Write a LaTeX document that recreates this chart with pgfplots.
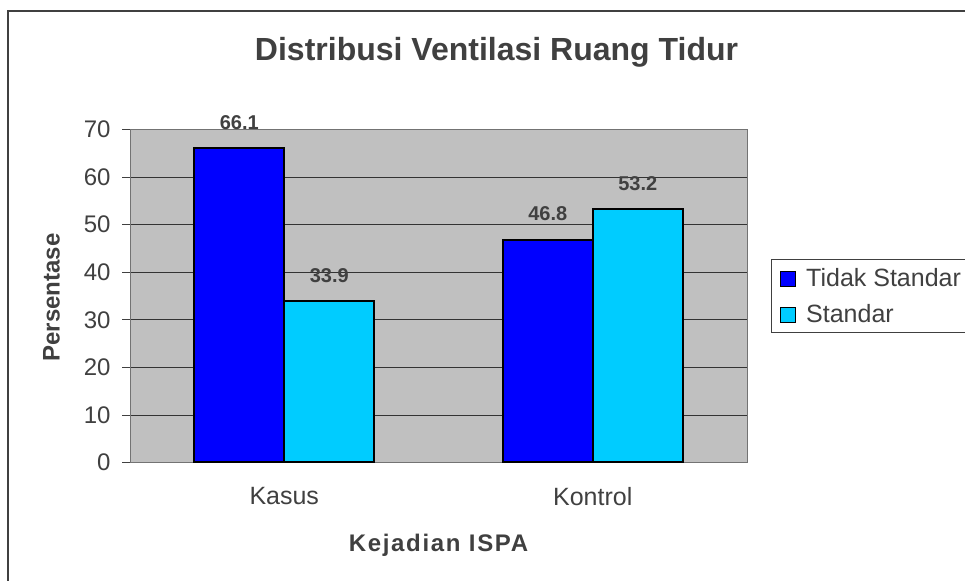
\documentclass[border=0pt]{standalone}
\usepackage{fontspec}
\setmainfont{Liberation Sans}
\usepackage{pgfplots}
\pgfplotsset{compat=1.18}
\definecolor{txt}{HTML}{404040}
\definecolor{bgray}{HTML}{C0C0C0}
\definecolor{sblue}{HTML}{0000FF}
\definecolor{scyan}{HTML}{00CCFF}
\pgfplotsset{
  sqlegend/.style={legend image code/.code={\draw[##1, draw=black, line width=1.3bp] (0bp,-9bp) rectangle (15bp,6bp);}}
}
\begin{document}
\begin{tikzpicture}[x=1bp,y=1bp]
\path[use as bounding box] (0,0) rectangle (965,581);
\draw[txt, line width=2bp] (8,-20) -- (8,570) -- (990,570);
\begin{axis}[
  at={(130bp,118.5bp)}, anchor=south west,
  scale only axis, width=617bp, height=333bp,
  ybar=0pt, bar width=90bp,
  xmin=-0.5, xmax=1.5, ymin=0, ymax=70,
  axis background/.style={fill=bgray},
  axis line style={draw=gray!90!black, line width=1bp},
  ytick={0,10,...,70},
  ytick pos=left, xtick pos=bottom,
  ymajorgrids, grid style={draw=black!80, line width=0.8bp},
  tick align=outside, major tick length=8bp,
  tick style={draw=txt, line width=0.8bp},
  xtick={0,1}, xticklabels={Kasus,Kontrol},
  x tick style={draw=none},
  extra x ticks={-0.5,0.5,1.5}, extra x tick labels={},
  extra x tick style={tick style={draw=txt, line width=0.8bp}, grid=none},
  /pgf/number format/assume math mode=true,
  yticklabel style={font=\fontsize{24bp}{28bp}\selectfont, text=txt, xshift=-8bp},
  xticklabel style={font=\fontsize{25bp}{30bp}\selectfont, text=txt, yshift=-13bp},
  nodes near coords,
  nodes near coords style={font=\bfseries\fontsize{20bp}{24bp}\selectfont, text=txt, anchor=base, yshift=19bp,
     /pgf/number format/.cd, fixed, precision=1, fixed zerofill, assume math mode=true},
  legend style={at={(1.0384,0.612)}, anchor=north west, draw=txt, fill=white,
     font=\fontsize{25bp}{30bp}\selectfont, text=txt,
     inner xsep=9bp, inner ysep=9bp, row sep=16.5bp, column sep=0bp,
     nodes={inner sep=0pt}},
  legend cell align=left,
]
\addplot[fill=sblue, draw=black, line width=2bp, sqlegend] coordinates {(0,66.1) (1,46.8)};
\addplot[fill=scyan, draw=black, line width=2bp, sqlegend] coordinates {(0,33.9) (1,53.2)};
\legend{\hspace{10bp}Tidak Standar,\hspace{10bp}Standar}
\end{axis}
\node[anchor=base, font=\bfseries\fontsize{32bp}{38bp}\selectfont, text=txt] at (496.5,520) {Distribusi Ventilasi Ruang Tidur};
\node[anchor=base, rotate=90, font=\bfseries\fontsize{24bp}{28bp}\selectfont, text=txt] at (59.5,283.5) {Persentase};
\node[anchor=base, font=\bfseries\fontsize{24bp}{28bp}\selectfont\addfontfeature{LetterSpace=7}, text=txt] at (438.5,29.3) {Kejadian ISPA};
\end{tikzpicture}
\end{document}
